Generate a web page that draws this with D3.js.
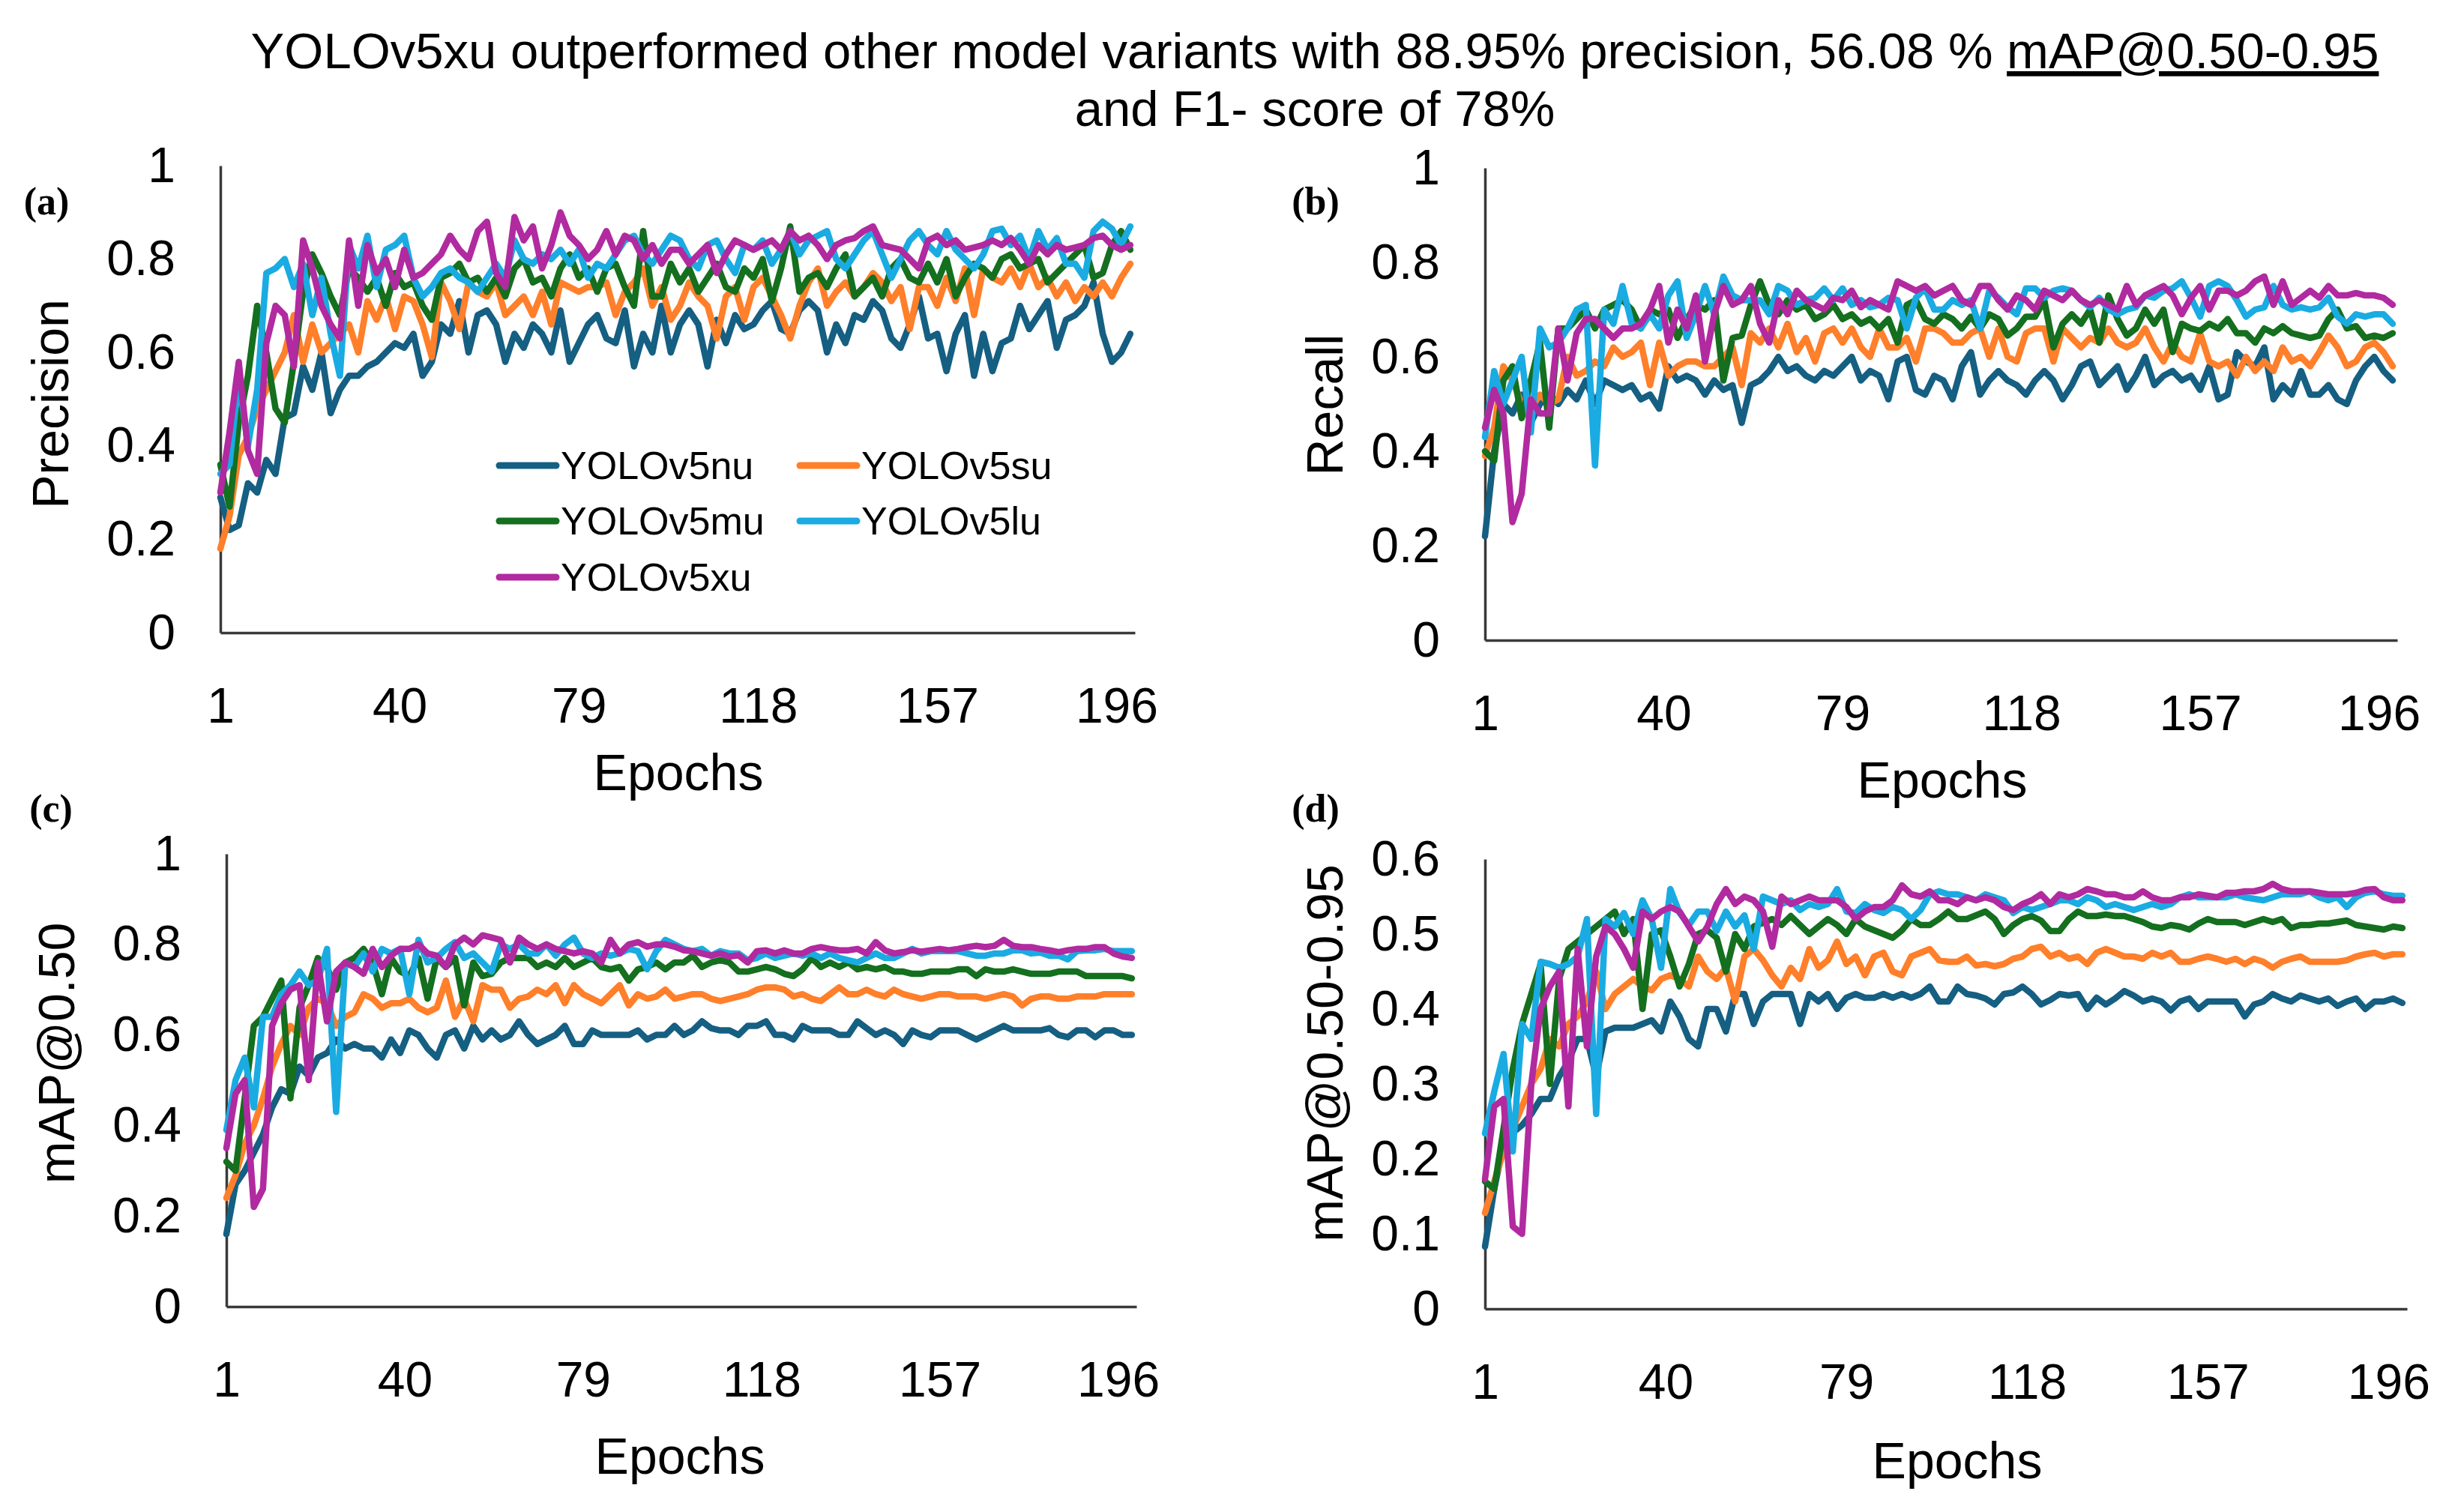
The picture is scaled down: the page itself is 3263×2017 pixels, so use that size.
<!DOCTYPE html>
<html>
<head>
<meta charset="utf-8">
<script src="https://cdn.jsdelivr.net/npm/d3@7"></script>
<style>
  body { margin: 0; background: #fff; }
  text { font-family: "Liberation Sans", Arial, sans-serif; fill: #000; }
</style>
</head>
<body>
<div id="chart"></div>
<script>
const width = 3263
const height = 2017

// sampled every second epoch
const epochs = [1,3,5,7,9,11,13,15,17,19,21,23,25,27,29,31,33,35,37,39,41,43,45,47,49,51,53,55,57,59,61,63,65,67,69,71,73,75,77,79,81,83,85,87,89,91,93,95,97,99,
  101,103,105,107,109,111,113,115,117,119,121,123,125,127,129,131,133,135,137,139,141,143,145,147,149,151,153,155,157,159,161,163,165,167,169,171,173,175,177,179,181,183,185,187,189,191,193,195,197,199]

const seriesNames = ["YOLOv5nu", "YOLOv5su", "YOLOv5mu", "YOLOv5lu", "YOLOv5xu"]
const seriesColors = ["#155f82", "#ff7f2a", "#146f1f", "#1aabe2", "#b12aa0"]

const xTickLabels = [1, 40, 79, 118, 157, 196]
const yTicksUnit = [0, 0.2, 0.4, 0.6, 0.8, 1]
const yTicksStrict = [0, 0.1, 0.2, 0.3, 0.4, 0.5, 0.6]

// (a) Precision
const precisionNu = [.29,.22,.23,.32,.30,.37,.34,.46,.47,.57,.52,.60,.47,.52,.55,.55,.57,.58,.60,.62,.61,.64,.55,.58,.66,.64,.71,.60,.68,.69,.66,.58,.64,.61,.66,.64,.60,.69,.58,.62,.66,.68,.63,.62,.69,.57,.64,.60,.70,.60,
  .66,.69,.66,.57,.67,.62,.68,.65,.66,.69,.71,.65,.64,.69,.71,.69,.60,.66,.62,.68,.67,.71,.69,.63,.61,.66,.72,.63,.64,.56,.64,.68,.55,.64,.56,.62,.63,.70,.65,.68,.71,.61,.67,.68,.70,.75,.64,.58,.60,.64]
const precisionSu = [.18,.25,.38,.42,.48,.52,.56,.60,.68,.58,.66,.60,.62,.64,.66,.60,.71,.67,.72,.65,.72,.71,.66,.59,.75,.71,.65,.75,.73,.72,.75,.68,.70,.72,.68,.73,.66,.75,.74,.73,.74,.74,.75,.68,.73,.75,.78,.70,.74,.67,
  .70,.75,.72,.70,.63,.72,.74,.67,.74,.76,.72,.68,.63,.70,.75,.78,.70,.73,.75,.72,.74,.77,.75,.71,.74,.65,.74,.74,.70,.76,.71,.78,.68,.78,.76,.75,.78,.74,.79,.74,.76,.72,.75,.71,.74,.72,.75,.72,.76,.79]
const precisionMu = [.36,.27,.45,.55,.70,.60,.48,.45,.58,.73,.81,.77,.72,.68,.78,.76,.73,.76,.70,.77,.74,.75,.70,.67,.76,.77,.79,.75,.76,.73,.76,.72,.78,.80,.75,.76,.72,.78,.81,.76,.78,.73,.78,.79,.74,.70,.86,.72,.72,.79,
  .75,.78,.73,.76,.79,.74,.73,.78,.76,.80,.71,.78,.87,.73,.76,.77,.74,.78,.81,.72,.74,.76,.72,.78,.80,.76,.75,.79,.75,.80,.72,.76,.79,.78,.76,.80,.81,.78,.79,.80,.75,.77,.79,.81,.83,.76,.77,.83,.86,.82]
const precisionLu = [.34,.36,.55,.40,.52,.77,.78,.80,.74,.79,.68,.76,.64,.55,.83,.78,.85,.74,.82,.83,.85,.76,.72,.74,.77,.78,.76,.75,.73,.76,.79,.76,.84,.80,.79,.81,.80,.82,.79,.82,.76,.79,.78,.81,.84,.85,.81,.79,.82,.85,
  .84,.80,.78,.83,.84,.80,.77,.83,.82,.84,.79,.82,.86,.81,.84,.85,.86,.80,.78,.81,.84,.86,.81,.76,.80,.84,.86,.83,.81,.86,.82,.80,.78,.81,.86,.865,.83,.85,.80,.86,.82,.845,.79,.79,.76,.86,.88,.865,.83,.87]
const precisionXu = [.30,.43,.58,.39,.34,.62,.70,.68,.57,.84,.78,.70,.66,.63,.84,.70,.83,.77,.80,.74,.82,.76,.77,.79,.81,.85,.82,.80,.86,.88,.77,.74,.89,.84,.87,.78,.83,.90,.85,.83,.80,.82,.86,.81,.85,.84,.80,.83,.79,.82,
  .82,.79,.81,.83,.77,.81,.84,.83,.82,.83,.84,.82,.86,.84,.85,.83,.80,.83,.84,.845,.86,.87,.83,.825,.82,.80,.78,.84,.85,.83,.84,.82,.825,.83,.84,.83,.845,.82,.79,.83,.81,.83,.82,.825,.83,.845,.85,.83,.82,.83]

// (b) Recall
const recallNu = [.22,.40,.50,.48,.52,.46,.50,.52,.50,.53,.51,.55,.50,.55,.54,.53,.54,.51,.52,.49,.58,.55,.56,.55,.52,.55,.53,.54,.46,.54,.55,.57,.60,.57,.58,.56,.55,.57,.56,.58,.60,.55,.57,.56,.51,.59,.60,.53,.52,.56,
  .55,.51,.58,.61,.52,.55,.57,.55,.54,.52,.55,.57,.55,.51,.54,.58,.59,.54,.56,.58,.53,.56,.60,.54,.56,.57,.55,.56,.53,.58,.51,.52,.61,.59,.58,.62,.51,.54,.52,.57,.52,.52,.54,.51,.50,.55,.58,.60,.57,.55]
const recallSu = [.39,.45,.58,.55,.50,.49,.52,.50,.51,.60,.56,.57,.59,.58,.62,.60,.61,.63,.54,.63,.56,.58,.59,.59,.58,.58,.60,.62,.54,.65,.63,.66,.62,.67,.61,.64,.59,.65,.66,.63,.66,.62,.60,.66,.62,.62,.64,.59,.66,.66,
  .65,.63,.63,.65,.66,.60,.66,.60,.59,.65,.66,.66,.59,.66,.64,.62,.64,.63,.66,.63,.62,.63,.66,.62,.59,.63,.60,.59,.65,.59,.58,.59,.56,.60,.57,.59,.57,.62,.59,.60,.58,.61,.645,.62,.58,.59,.62,.63,.61,.58]
const recallMu = [.40,.38,.55,.58,.47,.55,.63,.45,.66,.66,.68,.70,.66,.70,.71,.72,.70,.66,.70,.69,.70,.64,.68,.71,.70,.72,.55,.64,.645,.71,.76,.71,.69,.72,.70,.71,.68,.69,.71,.68,.69,.67,.68,.66,.68,.63,.71,.72,.68,.67,
  .69,.68,.66,.685,.66,.69,.68,.645,.66,.685,.685,.72,.62,.67,.69,.67,.70,.63,.73,.68,.645,.66,.70,.67,.70,.61,.67,.66,.655,.67,.66,.68,.65,.65,.63,.66,.65,.665,.65,.645,.64,.645,.68,.70,.66,.665,.64,.645,.64,.65]
const recallLu = [.43,.57,.50,.55,.60,.44,.66,.62,.63,.66,.70,.71,.37,.70,.67,.75,.67,.66,.69,.66,.73,.76,.64,.69,.75,.69,.77,.73,.72,.72,.72,.69,.75,.74,.71,.72,.725,.745,.72,.745,.71,.72,.705,.71,.725,.72,.66,.725,.745,.70,
  .70,.72,.71,.72,.66,.74,.725,.705,.69,.745,.745,.725,.74,.745,.74,.72,.705,.725,.70,.69,.70,.705,.73,.725,.74,.745,.76,.725,.685,.75,.76,.75,.72,.685,.70,.705,.75,.71,.70,.705,.70,.705,.725,.685,.67,.69,.685,.69,.69,.67]
const recallXu = [.45,.53,.48,.25,.31,.51,.48,.48,.66,.55,.65,.68,.68,.66,.64,.66,.66,.67,.70,.75,.63,.70,.66,.73,.59,.69,.75,.71,.72,.75,.67,.63,.72,.69,.74,.72,.71,.70,.725,.72,.74,.705,.72,.71,.70,.76,.75,.74,.75,.73,
  .74,.75,.72,.71,.75,.75,.72,.70,.73,.72,.70,.74,.73,.72,.74,.72,.71,.72,.71,.70,.75,.71,.73,.74,.75,.73,.69,.725,.75,.70,.74,.74,.73,.74,.76,.77,.71,.76,.71,.725,.74,.725,.75,.73,.73,.735,.73,.73,.725,.71]

// (c) mAP@0.50
const map50Nu = [.16,.27,.30,.34,.38,.44,.48,.47,.53,.51,.55,.56,.59,.57,.58,.57,.57,.55,.59,.56,.61,.60,.57,.55,.60,.61,.57,.62,.59,.61,.59,.60,.63,.60,.58,.59,.60,.62,.58,.58,.61,.60,.60,.60,.60,.61,.59,.60,.60,.62,
  .60,.61,.63,.615,.61,.61,.60,.62,.62,.63,.60,.60,.59,.62,.61,.61,.61,.60,.60,.63,.615,.60,.61,.60,.58,.61,.60,.595,.61,.61,.61,.60,.59,.60,.61,.62,.61,.61,.61,.61,.615,.60,.595,.61,.61,.595,.61,.61,.60,.60]
const map50Su = [.24,.29,.36,.40,.46,.53,.58,.62,.60,.66,.68,.67,.62,.64,.65,.69,.68,.66,.67,.67,.68,.66,.65,.66,.72,.64,.68,.63,.71,.70,.70,.66,.68,.685,.70,.69,.71,.67,.71,.69,.68,.67,.69,.71,.665,.69,.68,.685,.70,.68,
  .685,.69,.69,.68,.675,.68,.685,.69,.70,.705,.705,.70,.685,.69,.68,.675,.69,.705,.69,.69,.70,.69,.685,.70,.69,.685,.68,.685,.69,.69,.685,.685,.685,.68,.685,.69,.685,.665,.68,.685,.685,.68,.68,.685,.685,.685,.69,.69,.69,.69]
const map50Mu = [.32,.30,.46,.62,.64,.68,.72,.46,.66,.71,.77,.75,.70,.76,.77,.79,.76,.69,.77,.74,.73,.77,.68,.77,.75,.77,.665,.76,.73,.735,.76,.77,.77,.77,.75,.76,.75,.77,.75,.76,.77,.75,.745,.75,.72,.745,.75,.76,.745,.76,
  .76,.775,.75,.76,.765,.76,.74,.74,.745,.75,.745,.735,.73,.745,.77,.75,.76,.75,.76,.745,.75,.745,.75,.74,.74,.735,.735,.74,.74,.74,.745,.745,.73,.745,.74,.74,.745,.74,.735,.735,.735,.74,.74,.74,.73,.73,.73,.73,.73,.725]
const map50Lu = [.39,.50,.55,.44,.64,.64,.69,.71,.74,.71,.72,.79,.43,.76,.75,.78,.74,.79,.78,.79,.69,.81,.76,.77,.79,.805,.77,.78,.76,.74,.80,.79,.80,.78,.78,.80,.775,.80,.815,.78,.77,.78,.775,.78,.79,.785,.745,.785,.81,.80,
  .79,.785,.79,.775,.785,.78,.78,.765,.77,.78,.77,.775,.78,.775,.78,.77,.78,.77,.765,.76,.77,.78,.77,.77,.78,.79,.78,.785,.785,.785,.785,.78,.775,.775,.78,.78,.787,.787,.78,.782,.775,.775,.767,.785,.787,.787,.79,.785,.785,.785]
const map50Xu = [.35,.47,.50,.22,.26,.62,.67,.70,.71,.50,.76,.63,.74,.76,.75,.735,.79,.75,.775,.79,.79,.80,.78,.775,.75,.80,.815,.80,.82,.815,.81,.76,.815,.80,.79,.80,.79,.785,.78,.785,.78,.76,.81,.78,.80,.805,.795,.80,.80,.795,
  .787,.785,.78,.775,.78,.773,.776,.76,.785,.787,.78,.787,.78,.78,.79,.794,.79,.787,.787,.79,.78,.805,.787,.78,.783,.787,.784,.787,.79,.787,.79,.794,.797,.794,.797,.81,.797,.794,.794,.79,.787,.783,.787,.79,.79,.794,.794,.78,.773,.77]

// (d) mAP@0.50-0.95
const map5095Nu = [.083,.16,.22,.235,.245,.26,.28,.28,.31,.33,.36,.36,.31,.37,.375,.375,.375,.38,.385,.37,.41,.39,.36,.35,.40,.40,.37,.42,.42,.38,.41,.42,.42,.42,.38,.42,.41,.42,.40,.415,.42,.415,.415,.42,.415,.42,.415,.42,.43,.41,
  .41,.43,.42,.418,.414,.406,.42,.422,.43,.42,.406,.412,.42,.418,.42,.40,.415,.406,.414,.424,.418,.41,.414,.41,.398,.41,.414,.40,.41,.41,.41,.41,.39,.406,.41,.42,.414,.41,.418,.414,.41,.414,.404,.41,.414,.40,.41,.41,.414,.408]
const map5095Su = [.128,.17,.21,.24,.27,.30,.32,.36,.35,.38,.39,.41,.45,.40,.42,.43,.44,.43,.425,.44,.445,.44,.43,.47,.45,.44,.455,.41,.47,.48,.465,.445,.43,.455,.44,.48,.455,.465,.49,.46,.47,.445,.47,.475,.45,.445,.47,.475,.48,.465,
  .463,.463,.47,.458,.46,.457,.46,.467,.47,.48,.483,.47,.475,.467,.47,.46,.475,.48,.475,.47,.47,.467,.475,.47,.475,.463,.463,.467,.47,.467,.463,.467,.46,.467,.463,.455,.463,.467,.47,.463,.463,.463,.463,.465,.47,.473,.475,.47,.473,.473]
const map5095Mu = [.17,.16,.24,.32,.38,.42,.46,.30,.44,.48,.49,.50,.51,.52,.53,.50,.52,.40,.50,.505,.47,.43,.46,.50,.505,.495,.45,.50,.48,.51,.515,.52,.512,.524,.512,.50,.51,.52,.512,.50,.52,.51,.505,.50,.495,.505,.52,.512,.512,.52,
  .53,.52,.52,.525,.53,.52,.50,.512,.52,.524,.518,.504,.504,.52,.53,.524,.524,.526,.524,.524,.52,.516,.51,.508,.512,.51,.506,.514,.52,.516,.516,.516,.512,.516,.52,.516,.52,.508,.512,.512,.514,.514,.516,.518,.512,.51,.508,.506,.51,.508]
const map5095Lu = [.234,.29,.34,.21,.38,.36,.463,.46,.455,.46,.47,.52,.26,.52,.51,.528,.50,.545,.52,.455,.56,.528,.512,.53,.53,.504,.53,.51,.525,.48,.55,.545,.54,.545,.532,.54,.536,.54,.56,.53,.528,.54,.532,.528,.536,.532,.52,.532,.553,.557,
  .553,.553,.549,.545,.553,.549,.545,.528,.536,.532,.536,.54,.545,.545,.54,.549,.545,.536,.54,.536,.532,.536,.54,.536,.54,.549,.553,.549,.549,.549,.549,.553,.549,.547,.545,.549,.553,.553,.553,.557,.549,.545,.549,.536,.549,.555,.557,.553,.551,.551]
const map5095Xu = [.173,.27,.28,.11,.10,.30,.40,.43,.45,.27,.48,.35,.47,.51,.50,.48,.455,.53,.52,.53,.536,.53,.51,.49,.51,.54,.56,.54,.55,.545,.53,.483,.55,.54,.545,.55,.545,.545,.545,.536,.52,.53,.536,.536,.545,.565,.553,.55,.557,.545,
  .545,.54,.549,.545,.549,.545,.536,.532,.54,.545,.553,.54,.553,.549,.553,.56,.557,.553,.553,.549,.549,.557,.549,.545,.545,.549,.549,.553,.551,.549,.555,.555,.557,.557,.56,.567,.56,.557,.557,.557,.555,.553,.553,.553,.555,.559,.56,.549,.545,.545]

const panels = [
  { tag: "(a)", yTitle: "Precision", series: [precisionNu, precisionSu, precisionMu, precisionLu, precisionXu],
    yMax: 1, yTicks: yTicksUnit, left: 294, right: 1514, top: 221, bottom: 844,
    tagPos: [62, 268], yTitlePos: [67, 539], xTitlePos: [905, 1054], legend: true },
  { tag: "(b)", yTitle: "Recall", series: [recallNu, recallSu, recallMu, recallLu, recallXu],
    yMax: 1, yTicks: yTicksUnit, left: 1981, right: 3198, top: 224, bottom: 854,
    tagPos: [1755, 268], yTitlePos: [1767, 540], xTitlePos: [2591, 1064] },
  { tag: "(c)", yTitle: "mAP@0.50", series: [map50Nu, map50Su, map50Mu, map50Lu, map50Xu],
    yMax: 1, yTicks: yTicksUnit, left: 302, right: 1516, top: 1139, bottom: 1743,
    tagPos: [68, 1078], yTitlePos: [75, 1405], xTitlePos: [907, 1966] },
  { tag: "(d)", yTitle: "mAP@0.50-0.95", series: [map5095Nu, map5095Su, map5095Mu, map5095Lu, map5095Xu],
    yMax: 0.6, yTicks: yTicksStrict, left: 1981, right: 3211, top: 1146, bottom: 1746,
    tagPos: [1755, 1078], yTitlePos: [1767, 1405], xTitlePos: [2611, 1972] }
]

const svg = d3.select("#chart").append("svg").attr("width", width).attr("height", height)
svg.append("rect").attr("width", width).attr("height", height).attr("fill", "#fff")

// title
const title = svg.append("text").attr("x", 1754).attr("y", 91).attr("text-anchor", "middle").attr("font-size", 67)
title.append("tspan").text("YOLOv5xu outperformed other model variants with 88.95% precision, 56.08 % ")
title.append("tspan").attr("text-decoration", "underline").style("text-decoration", "underline").text("mAP@0.50-0.95")
svg.append("text").attr("x", 1754).attr("y", 168).attr("text-anchor", "middle").attr("font-size", 67)
  .text("and F1- score of 78%")

panels.forEach(p => {
  const x = d3.scaleLinear().domain([1, 200]).range([p.left, p.right])
  const y = d3.scaleLinear().domain([0, p.yMax]).range([p.bottom, p.top])

  const xAxisGroup = svg.append("g").attr("transform", `translate(0, ${p.bottom})`)
  const yAxisGroup = svg.append("g").attr("transform", `translate(${p.left}, 0)`)

  xAxisGroup.call(d3.axisBottom(x).tickValues(xTickLabels).tickSize(0).tickSizeOuter(0).tickPadding(73).tickFormat(d3.format("d")))
  yAxisGroup.call(d3.axisLeft(y).tickValues(p.yTicks).tickSize(0).tickSizeOuter(0).tickPadding(60).tickFormat(d3.format("~g")))

  svg.selectAll(".domain").attr("stroke", "#3a3a3a").attr("stroke-width", 3.5)
  xAxisGroup.selectAll("text").attr("font-size", 66).attr("fill", "#000").style("font-family", "'Liberation Sans', Arial, sans-serif")
  yAxisGroup.selectAll("text").attr("font-size", 66).attr("fill", "#000").style("font-family", "'Liberation Sans', Arial, sans-serif")

  const line = d3.line().x((d, i) => x(epochs[i])).y(d => y(d))
  const lineGroup = svg.append("g")
  lineGroup.selectAll("path").data(p.series).enter()
    .append("path")
    .attr("d", d => line(d))
    .attr("fill", "none")
    .attr("stroke", (d, i) => seriesColors[i])
    .attr("stroke-width", 8.5)
    .attr("stroke-linejoin", "round")
    .attr("stroke-linecap", "round")

  svg.append("text").attr("x", p.xTitlePos[0]).attr("y", p.xTitlePos[1])
    .attr("text-anchor", "middle").attr("font-size", 68).text("Epochs")
  svg.append("text").attr("transform", `translate(${p.yTitlePos[0]}, ${p.yTitlePos[1]}) rotate(-90)`)
    .attr("text-anchor", "middle").attr("dominant-baseline", "central").attr("font-size", 68).text(p.yTitle)
  svg.append("text").attr("x", p.tagPos[0]).attr("y", p.tagPos[1])
    .attr("text-anchor", "middle").attr("dominant-baseline", "central")
    .attr("font-size", 52).attr("font-weight", "bold")
    .style("font-family", "'Liberation Serif', 'Times New Roman', serif")
    .text(p.tag)

  if (p.legend) {
    const legendPos = [[666, 621], [1067, 621], [666, 695], [1067, 695], [666, 770]]
    const legend = svg.append("g")
    seriesNames.forEach((name, i) => {
      const [lx, ly] = legendPos[i]
      legend.append("line").attr("x1", lx).attr("x2", lx + 76).attr("y1", ly).attr("y2", ly)
        .attr("stroke", seriesColors[i]).attr("stroke-width", 9).attr("stroke-linecap", "round")
      legend.append("text").attr("x", lx + 82).attr("y", ly).attr("dominant-baseline", "central")
        .attr("font-size", 52).text(name)
    })
  }
})
</script>
</body>
</html>
